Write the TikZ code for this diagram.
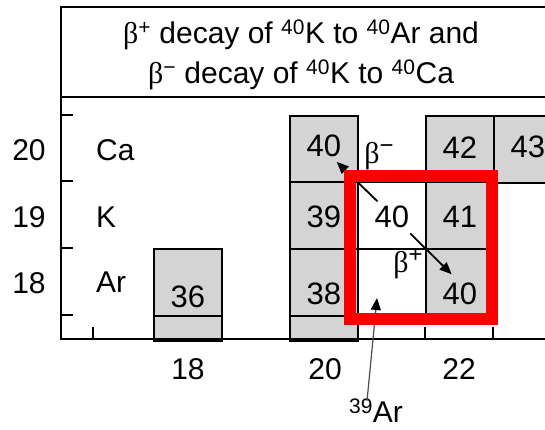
\documentclass[tikz,border=0pt]{standalone}
\usepackage{fontspec}
\setmainfont{Liberation Sans}
\newfontfamily\greekfont{Liberation Serif}
\usetikzlibrary{calc,arrows.meta}
\newcommand\bet{{\greekfont β}}
\newcommand\bigsup[1]{\raisebox{10pt}{\fontsize{24}{24}\selectfont #1}}
\definecolor{cellgray}{RGB}{212,212,212}
\definecolor{boxred}{RGB}{250,0,0}
\begin{document}
\begin{tikzpicture}[x=1pt,y=-1pt,
  every node/.style={font=\fontsize{30}{40}\selectfont, inner sep=0pt},
  num/.style={font=\fontsize{31}{36}\selectfont},
  cell/.style={draw=black, line width=1.6pt, fill=cellgray, minimum width=68pt, minimum height=67pt, anchor=north west},
  wcell/.style={cell, fill=white},
  lowcell/.style={cell, minimum height=25pt},
  frame/.style={line width=2.4pt, line cap=rect},
  tick/.style={line width=2pt},
  arr/.style={line width=1.8pt, -{Triangle[length=12pt,width=10pt]}},
  garr/.style={line width=1.2pt, draw=black!70, -{Triangle[length=12pt,width=10pt,fill=black,color=black]}},
  hl/.style={draw=boxred, line width=12pt}]
\useasboundingbox (0,0) rectangle (545,429);
\clip (0,0) rectangle (545,429);
% cells
\node[cell] (ar36) at (153,248) {};
\node[lowcell] (ar36b) at (153,315) {};
\node[cell] (ca40) at (289,115) {};
\node[cell] (k39) at (289,181) {};
\node[cell] (ar38) at (289,248) {};
\node[lowcell] (ar38b) at (289,315) {};
\node[wcell] (k40) at (357,181) {};
\node[wcell] (ar39) at (357,248) {};
\node[cell] (ca42) at (425,115) {};
\node[cell] (k41) at (425,181) {};
\node[cell] (ar40) at (425,248) {};
\node[cell] (ca43) at (493,115) {};
% numbers
\node[num] at ([yshift=-15pt]ar36.center) {36};
\node[num] at ([yshift=3pt]ca40.center) {40};
\node[num] at ([yshift=-2pt]k39.center) {39};
\node[num] at ([yshift=-12pt]ar38.center) {38};
\node[num] at ([yshift=-2pt]k40.center) {40};
\node[num] at ([yshift=2pt]ca42.center) {42};
\node[num] at ([yshift=-2pt]k41.center) {41};
\node[num] at ([yshift=-12pt]ar40.center) {40};
\node[num] at ([yshift=2pt]ca43.center) {43};
% frame
\draw[frame] (61,97) -- (600,97);
\draw[frame] (600,7) -- (61,7) -- (61,339) -- (600,339);
% ticks
\foreach \y in {115,181,248,315} \draw[tick] (61,\y) -- (73,\y);
\foreach \x in {93,425,493} \draw[tick] (\x,339) -- (\x,327);
% title
\node[align=center] (title) at (301,55) {\bet\textsuperscript{+} decay of \textsuperscript{40}K to \textsuperscript{40}Ar and\\ \bet\textsuperscript{−} decay of \textsuperscript{40}K to \textsuperscript{40}Ca};
% axis labels
\node (z20) at (29,150) {20};
\node (z19) at (29,217) {19};
\node (z18) at (29,283) {18};
\node[anchor=west] (eca) at (96,150) {Ca};
\node[anchor=west] (ek) at (96,217) {K};
\node[anchor=west] (ear) at (96,282) {Ar};
\node (n18) at (188,369) {18};
\node (n20) at (325,369) {20};
\node (n22) at (459,369) {22};
% arrows
\draw[arr] ($(k40.center)!0.21!(ca40.center)$) -- ($(k40.center)!0.81!(ca40.center)$);
\draw[arr] ($(k40.center)!0.27!(ar40.center)$) -- ($(k40.center)!0.88!(ar40.center)$);
\node (bm) at (379,156) {\bet\bigsup{−}};
\node (bp) at (408,264) {\bet\bigsup{+}};
% 39Ar label
\node (lab39) at (376,411) {\textsuperscript{39}Ar};
\coordinate (tip39) at (377,298);
\draw[garr] ([xshift=-9pt,yshift=-2pt]lab39.north) -- (tip39);
% highlight box
\node[hl, minimum width=142pt, minimum height=143.5pt] (box) at (421,247.25) {};
\end{tikzpicture}
\end{document}
